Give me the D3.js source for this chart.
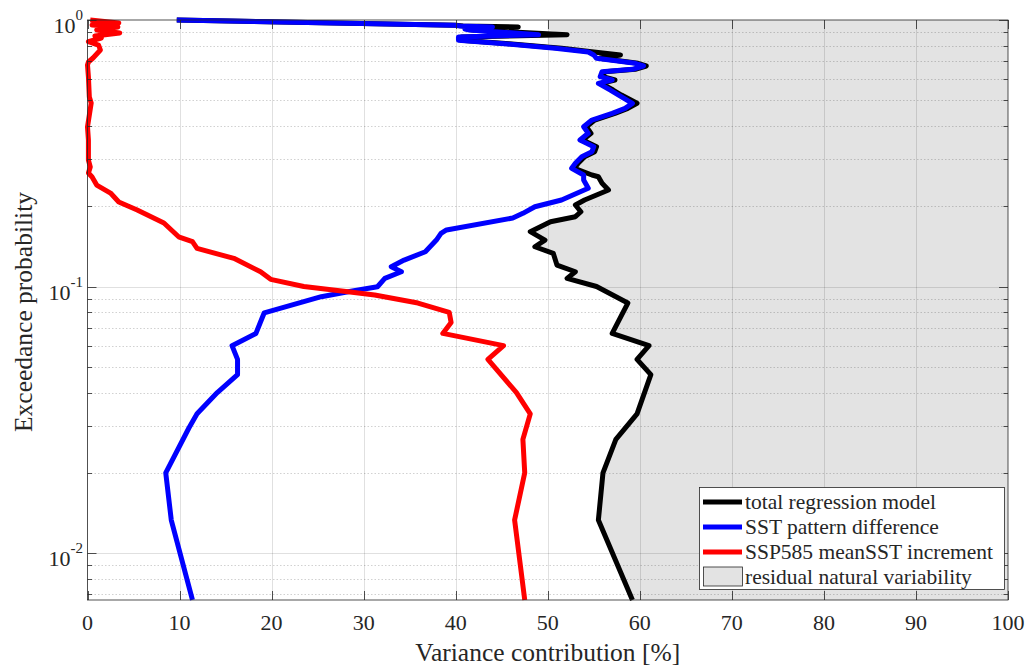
<!DOCTYPE html>
<html lang="en">
<head>
  <meta charset="UTF-8">
  <title>Variance contribution</title>
  <script src="https://cdn.jsdelivr.net/npm/d3@7"></script>
  <style>
    body { margin: 0; background: #fff; }
    svg text { font-family: "Liberation Serif", "DejaVu Serif", serif; fill: #262626; }
  </style>
</head>
<body>
  <svg id="chart" width="1030" height="668"></svg>
  <script>
    // exceedance probability / variance contribution [%]
    const sstP = [1.000, 0.955, 0.9495, 0.9413, 0.9252, 0.9173, 0.8807, 0.8634, 0.8391, 0.8150,
      0.7829, 0.7585, 0.7391, 0.7183, 0.6879, 0.6721, 0.6532, 0.6397, 0.6127, 0.5955,
      0.5787, 0.5461, 0.5230, 0.4868, 0.4662, 0.4466, 0.4214, 0.3978, 0.3757, 0.3546,
      0.3346, 0.3206, 0.3069, 0.2900, 0.2777, 0.2620, 0.2510, 0.2336, 0.2112, 0.1993,
      0.1882, 0.1807, 0.1630, 0.1583, 0.1494, 0.1350, 0.1257, 0.1187, 0.1136, 0.1073,
      0.0998, 0.0956, 0.0916, 0.0797, 0.0667, 0.0600, 0.0533, 0.0467, 0.0400, 0.0333,
      0.0294, 0.0200, 0.0133, 0.00667];
    const sstVal = [9.7, 39.9, 40.5, 44.0, 41.0, 41.5, 49.0, 40.3, 40.3, 45.3,
      50.8, 54.4, 55.0, 55.3, 59.5, 60.4, 59.2, 55.9, 55.7, 57.0,
      55.5, 56.8, 57.7, 59.2, 58.4, 57.0, 54.8, 53.9, 54.4, 53.5,
      55.0, 54.8, 53.7, 53.0, 52.6, 53.9, 53.9, 54.4, 51.5, 48.6,
      47.3, 46.2, 39.0, 38.4, 37.9, 36.7, 34.4, 33.0, 34.1, 32.3,
      31.5, 28.3, 25.4, 19.2, 18.3, 15.7, 16.3, 16.3, 14.1, 11.9,
      11.0, 8.5, 9.1, 11.4];

    const totalP = [1.000, 0.955, 0.9495, 0.9413, 0.9252, 0.9173, 0.8807, 0.8634, 0.8391, 0.8150,
      0.7829, 0.7585, 0.7391, 0.7183, 0.6879, 0.6721, 0.6532, 0.6397, 0.6127, 0.5955,
      0.5787, 0.5461, 0.5230, 0.4868, 0.4662, 0.4466, 0.4214, 0.3978, 0.3757, 0.3546,
      0.3346, 0.3206, 0.3069, 0.2900, 0.2777, 0.2620, 0.2582, 0.2439, 0.2302, 0.2112,
      0.2022, 0.1908, 0.1828, 0.1750, 0.1606, 0.1494, 0.1410, 0.1332, 0.1204, 0.1136,
      0.1073, 0.1000, 0.0867, 0.0667, 0.0600, 0.0533, 0.0467, 0.0333, 0.0267, 0.0200,
      0.0133, 0.00667];
    const totalVal = [9.7, 40.0, 40.8, 46.8, 41.3, 41.8, 52.1, 40.6, 40.6, 45.8,
      51.5, 55.0, 57.9, 55.6, 59.8, 60.7, 59.5, 56.2, 56.0, 57.3,
      55.8, 57.1, 58.0, 59.7, 58.7, 57.3, 55.1, 54.2, 54.7, 53.8,
      55.3, 55.1, 54.0, 53.3, 52.9, 54.8, 55.5, 55.9, 56.6, 54.0,
      53.0, 53.6, 53.0, 50.3, 48.1, 49.7, 48.6, 50.6, 51.0, 53.0,
      52.1, 55.3, 58.7, 57.0, 61.0, 59.7, 61.2, 59.7, 57.4, 56.0,
      55.5, 59.2];

    const meanP = [1.000, 0.9744, 0.9577, 0.9413, 0.9173, 0.8938, 0.8709, 0.8560, 0.8290, 0.8057,
      0.7717, 0.7201, 0.6958, 0.6780, 0.6111, 0.5141, 0.4881, 0.3968, 0.3546, 0.2983,
      0.2809, 0.2666, 0.2575, 0.2403, 0.2242, 0.2149, 0.2075, 0.1936, 0.1731, 0.1537,
      0.1473, 0.1390, 0.1276, 0.1136, 0.1064, 0.1000, 0.0956, 0.0929, 0.0867, 0.0800,
      0.0733, 0.0667, 0.0600, 0.0533, 0.0400, 0.0333, 0.0267, 0.0200, 0.0133, 0.00667];
    const meanVal = [0.3, 3.4, 0.5, 3.3, 1.0, 3.5, 0.8, 1.5, 0.1, 1.2,
      1.4, 0.6, 0.1, 0.0, 0.1, 0.2, 0.4, 0.0, 0.1, 0.1,
      0.3, 0.1, 0.5, 1.0, 2.5, 3.0, 3.4, 5.4, 8.3, 9.9,
      11.4, 11.9, 15.9, 18.8, 19.9, 23.5, 28.3, 31.2, 35.9, 39.3,
      39.5, 38.6, 45.2, 43.5, 46.6, 48.1, 47.3, 47.5, 46.4, 47.5];

    const xTicks = [0, 10, 20, 30, 40, 50, 60, 70, 80, 90, 100];
    const yTicks = [0.01, 0.1, 1];
    const legendLabels = ['total regression model', 'SST pattern difference',
      'SSP585 meanSST increment', 'residual natural variability'];
    const colors = ['#000000', '#0000ff', '#ff0000'];

    const svg = d3.select('#chart');
    const plotLeft = 87.5, plotRight = 1008, plotTop = 20, plotBottom = 600;
    const axisColor = '#262626';
    const serif = '"Liberation Serif", "DejaVu Serif", serif';

    const xScale = d3.scaleLinear().domain([0, 100]).range([plotLeft, plotRight]);
    const yScale = d3.scaleLog().domain([1 / 150, 1]).range([plotBottom, plotTop]);

    svg.append('defs').append('clipPath').attr('id', 'plotclip')
      .append('rect').attr('x', plotLeft).attr('y', plotTop)
      .attr('width', plotRight - plotLeft).attr('height', plotBottom - plotTop);

    // residual variability patch (right of total model)
    const fillData = d3.zip(totalP, totalVal)
      .map(([p, v]) => ({ p: p, v: p > 0.78 ? Math.max(v, 50) : v }));
    const area = d3.area()
      .y(d => yScale(d.p))
      .x0(d => xScale(d.v))
      .x1(xScale(100));
    svg.append('path')
      .datum(fillData)
      .attr('d', area)
      .attr('fill', '#e3e3e3')
      .attr('clip-path', 'url(#plotclip)');

    // gridlines
    const grid = svg.append('g').attr('class', 'gridlines');
    const minor = [];
    [0.001, 0.01, 0.1].forEach(dec => {
      for (let m = 2; m <= 9; m++) {
        const v = m * dec;
        if (v > 1 / 150 && v < 1) minor.push(v);
      }
    });
    grid.selectAll('line.minor').data(minor).join('line')
      .attr('class', 'minor')
      .attr('x1', plotLeft).attr('x2', plotRight)
      .attr('y1', d => Math.round(yScale(d)) + 0.5).attr('y2', d => Math.round(yScale(d)) + 0.5)
      .attr('stroke', '#000').attr('stroke-opacity', 0.18)
      .attr('stroke-width', 1).attr('stroke-dasharray', '1.5,2');
    grid.selectAll('line.ymajor').data(yTicks.slice(0, 2)).join('line')
      .attr('class', 'ymajor')
      .attr('x1', plotLeft).attr('x2', plotRight)
      .attr('y1', d => Math.round(yScale(d)) + 0.5).attr('y2', d => Math.round(yScale(d)) + 0.5)
      .attr('stroke', '#000').attr('stroke-opacity', 0.12);
    grid.selectAll('line.xmajor').data(xTicks.slice(1, -1)).join('line')
      .attr('class', 'xmajor')
      .attr('x1', d => Math.round(xScale(d)) + 0.5).attr('x2', d => Math.round(xScale(d)) + 0.5)
      .attr('y1', plotTop).attr('y2', plotBottom)
      .attr('stroke', '#000').attr('stroke-opacity', 0.12);

    // data lines
    const line = d3.line().x(d => xScale(d[1])).y(d => yScale(d[0]));
    const series = [d3.zip(totalP, totalVal), d3.zip(sstP, sstVal), d3.zip(meanP, meanVal)];
    series.forEach((s, i) => {
      svg.append('path')
        .datum(s)
        .attr('d', line)
        .attr('fill', 'none')
        .attr('stroke', colors[i])
        .attr('stroke-width', 5)
        .attr('stroke-linejoin', 'round');
    });

    // axes box + ticks
    const ax = svg.append('g').attr('stroke', axisColor).attr('stroke-width', 0.8);
    ax.append('rect').attr('x', plotLeft).attr('y', plotTop)
      .attr('width', plotRight - plotLeft).attr('height', plotBottom - plotTop).attr('fill', 'none');
    xTicks.forEach(t => {
      const xx = Math.round(xScale(t)) + 0.5;
      ax.append('line').attr('x1', xx).attr('x2', xx).attr('y1', plotBottom).attr('y2', plotBottom - 9);
      ax.append('line').attr('x1', xx).attr('x2', xx).attr('y1', plotTop).attr('y2', plotTop + 9);
    });
    yTicks.forEach(t => {
      const yy = Math.round(yScale(t)) + 0.5;
      ax.append('line').attr('x1', plotLeft).attr('x2', plotLeft + 9).attr('y1', yy).attr('y2', yy);
      ax.append('line').attr('x1', plotRight).attr('x2', plotRight - 9).attr('y1', yy).attr('y2', yy);
    });
    minor.forEach(t => {
      const yy = Math.round(yScale(t)) + 0.5;
      ax.append('line').attr('x1', plotLeft).attr('x2', plotLeft + 4.5).attr('y1', yy).attr('y2', yy);
      ax.append('line').attr('x1', plotRight).attr('x2', plotRight - 4.5).attr('y1', yy).attr('y2', yy);
    });

    // tick labels
    svg.append('g').selectAll('text').data(xTicks).join('text')
      .attr('x', d => xScale(d)).attr('y', 630)
      .attr('text-anchor', 'middle')
      .attr('font-family', serif).style('font-size', '22px')
      .text(d => d);
    const yl = svg.append('g').selectAll('text').data(yTicks).join('text')
      .attr('x', 83).attr('y', d => yScale(d) + 13)
      .attr('text-anchor', 'end')
      .attr('font-family', serif).style('font-size', '22px');
    yl.append('tspan').text('10');
    yl.append('tspan').attr('dy', -13).style('font-size', '15px')
      .text(d => String(Math.round(Math.log10(d))));

    // axis titles
    svg.append('text')
      .attr('x', (plotLeft + plotRight) / 2).attr('y', 661)
      .attr('text-anchor', 'middle')
      .attr('font-family', serif).style('font-size', '25.5px')
      .text('Variance contribution [%]');
    svg.append('text')
      .attr('transform', 'translate(32,312) rotate(-90)')
      .attr('text-anchor', 'middle')
      .attr('font-family', serif).style('font-size', '25.5px')
      .text('Exceedance probability');

    // legend
    const lg = svg.append('g');
    lg.append('rect').attr('x', 699.5).attr('y', 487.5).attr('width', 305).attr('height', 102)
      .attr('fill', '#fff').attr('stroke', axisColor).attr('stroke-width', 0.8);
    const rowY = [502, 527, 552, 576.5];
    legendLabels.forEach((lab, i) => {
      if (i < 3) {
        lg.append('line').attr('x1', 703).attr('x2', 742)
          .attr('y1', rowY[i]).attr('y2', rowY[i])
          .attr('stroke', colors[i]).attr('stroke-width', 5);
      } else {
        lg.append('rect').attr('x', 703.5).attr('y', rowY[i] - 9.5).attr('width', 39).attr('height', 19)
          .attr('fill', '#e3e3e3').attr('stroke', axisColor).attr('stroke-width', 0.8);
      }
      lg.append('text').attr('x', 745).attr('y', rowY[i] + 7)
        .attr('font-family', serif).style('font-size', '21.5px').text(lab);
    });
  </script>
</body>
</html>
